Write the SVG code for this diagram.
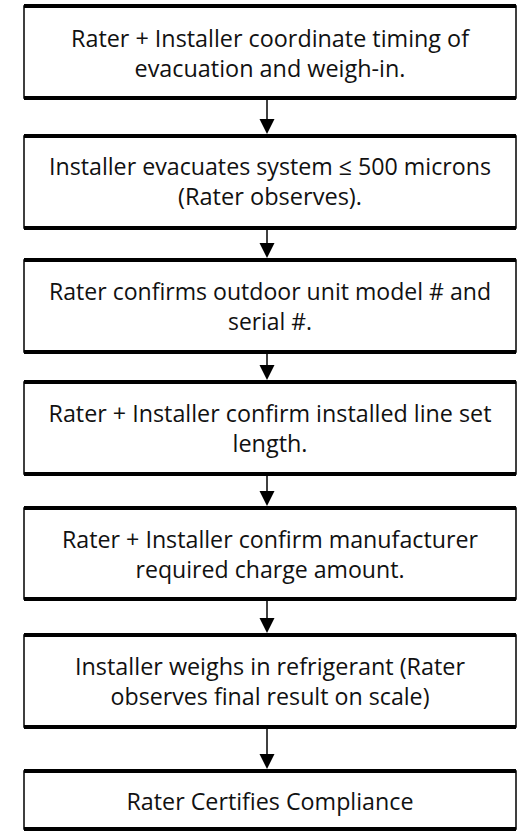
<svg xmlns="http://www.w3.org/2000/svg" width="529" height="831" viewBox="0 0 529 831">
  <style>
    .box { fill: #ffffff; stroke: #000000; stroke-width: 1.5; }
    .rule { fill: #000000; }
    .label { font-family: "Open Sans", "Liberation Sans", sans-serif; font-size: 23.5px; fill: #111111; text-anchor: middle; }
    .conn { stroke: #000000; stroke-width: 1.5; fill: none; }
    .head { fill: #000000; }
  </style>
  <rect width="529" height="831" fill="#ffffff"/>

  <!-- connectors: vertical arrows between consecutive steps -->
  <g id="connectors">
    <line class="conn" x1="267" y1="100" x2="267" y2="120"/>
    <polygon class="head" points="259.5,119 274.5,119 267,134"/>
    <line class="conn" x1="267" y1="230" x2="267" y2="244"/>
    <polygon class="head" points="259.5,243 274.5,243 267,258"/>
    <line class="conn" x1="267" y1="354" x2="267" y2="366"/>
    <polygon class="head" points="259.5,365 274.5,365 267,380"/>
    <line class="conn" x1="267" y1="476" x2="267" y2="492"/>
    <polygon class="head" points="259.5,491 274.5,491 267,506"/>
    <line class="conn" x1="267" y1="601" x2="267" y2="619"/>
    <polygon class="head" points="259.5,618 274.5,618 267,633"/>
    <line class="conn" x1="267" y1="729" x2="267" y2="755"/>
    <polygon class="head" points="259.5,754 274.5,754 267,769"/>
  </g>

  <g id="step1">
    <rect class="box" x="24" y="6" width="492" height="92"/>
    <rect class="rule" x="24" y="4" width="492" height="4"/>
    <rect class="rule" x="24" y="96" width="492" height="4"/>
    <text class="label" x="270" y="47" textLength="398" lengthAdjust="spacingAndGlyphs">Rater + Installer coordinate timing of</text>
    <text class="label" x="270" y="77" textLength="271" lengthAdjust="spacingAndGlyphs">evacuation and weigh-in.</text>
  </g>

  <g id="step2">
    <rect class="box" x="24" y="136" width="492" height="92"/>
    <rect class="rule" x="24" y="134" width="492" height="4"/>
    <rect class="rule" x="24" y="226" width="492" height="4"/>
    <text class="label" x="270" y="175" textLength="442" lengthAdjust="spacingAndGlyphs">Installer evacuates system ≤ 500 microns</text>
    <text class="label" x="270" y="205" textLength="184" lengthAdjust="spacingAndGlyphs">(Rater observes).</text>
  </g>

  <g id="step3">
    <rect class="box" x="24" y="260" width="492" height="92"/>
    <rect class="rule" x="24" y="258" width="492" height="4"/>
    <rect class="rule" x="24" y="350" width="492" height="4"/>
    <text class="label" x="270" y="300" textLength="442" lengthAdjust="spacingAndGlyphs">Rater confirms outdoor unit model # and</text>
    <text class="label" x="270" y="330" textLength="84" lengthAdjust="spacingAndGlyphs">serial #.</text>
  </g>

  <g id="step4">
    <rect class="box" x="24" y="382" width="492" height="92"/>
    <rect class="rule" x="24" y="380" width="492" height="4"/>
    <rect class="rule" x="24" y="472" width="492" height="4"/>
    <text class="label" x="270" y="422" textLength="443" lengthAdjust="spacingAndGlyphs">Rater + Installer confirm installed line set</text>
    <text class="label" x="270" y="452" textLength="75" lengthAdjust="spacingAndGlyphs">length.</text>
  </g>

  <g id="step5">
    <rect class="box" x="24" y="508" width="492" height="91"/>
    <rect class="rule" x="24" y="506" width="492" height="4"/>
    <rect class="rule" x="24" y="597" width="492" height="4"/>
    <text class="label" x="270" y="548" textLength="416" lengthAdjust="spacingAndGlyphs">Rater + Installer confirm manufacturer</text>
    <text class="label" x="270" y="578" textLength="269" lengthAdjust="spacingAndGlyphs">required charge amount.</text>
  </g>

  <g id="step6">
    <rect class="box" x="24" y="635" width="492" height="92"/>
    <rect class="rule" x="24" y="633" width="492" height="4"/>
    <rect class="rule" x="24" y="725" width="492" height="4"/>
    <text class="label" x="270" y="675" textLength="390" lengthAdjust="spacingAndGlyphs">Installer weighs in refrigerant (Rater</text>
    <text class="label" x="270" y="705" textLength="319" lengthAdjust="spacingAndGlyphs">observes final result on scale)</text>
  </g>

  <g id="step7">
    <rect class="box" x="24" y="771" width="492" height="58"/>
    <rect class="rule" x="24" y="769" width="492" height="4"/>
    <rect class="rule" x="24" y="827" width="492" height="4"/>
    <text class="label" x="270" y="810" textLength="287" lengthAdjust="spacingAndGlyphs">Rater Certifies Compliance</text>
  </g>
</svg>
